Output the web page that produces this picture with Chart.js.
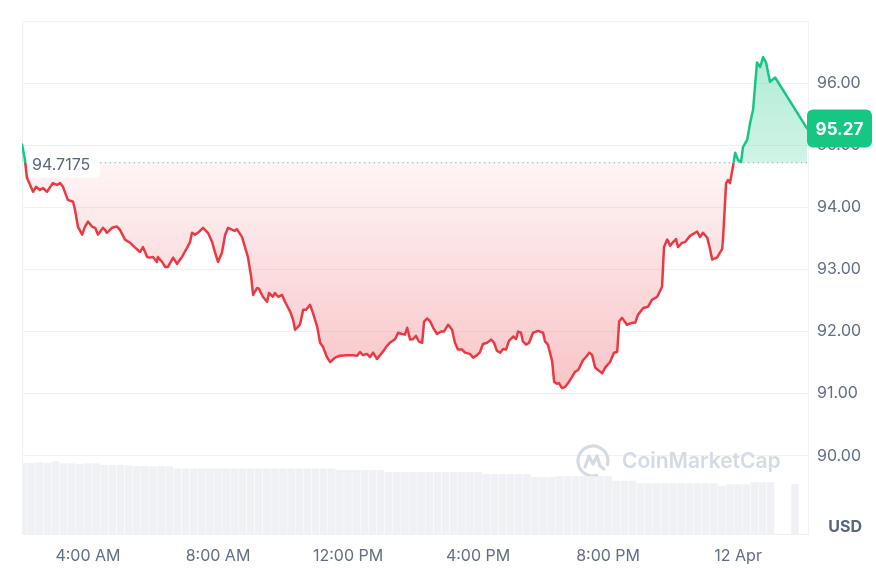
<!DOCTYPE html>
<html>
<head>
<meta charset="utf-8">
<script src="https://cdn.jsdelivr.net/npm/chart.js@4.4.1/dist/chart.umd.min.js"></script>
<style>
  html, body { margin: 0; padding: 0; background: #fff; }
</style>
</head>
<body>
<canvas id="priceChart" width="876" height="568"></canvas>
<script>
const openPrice = 94.7175;
const lastPrice = 95.27;

const tickHours = [4, 8, 12, 16, 20, 24];
const tickLabels = ["4:00 AM", "8:00 AM", "12:00 PM", "4:00 PM", "8:00 PM", "12 Apr"];
const priceTicks = [90, 91, 92, 93, 94, 95, 96, 97];

// hours since midnight (11 Apr)
const priceHours = [
    1.97, 2.06, 2.12, 2.31, 2.40, 2.52, 2.62, 2.74, 2.92, 3.05,
    3.14, 3.23, 3.38, 3.54, 3.60, 3.69, 3.82, 3.91, 4.00, 4.12,
    4.22, 4.31, 4.46, 4.52, 4.58, 4.74, 4.89, 4.98, 5.14, 5.29,
    5.45, 5.60, 5.69, 5.82, 5.91, 6.00, 6.12, 6.15, 6.28, 6.37,
    6.46, 6.62, 6.74, 6.89, 7.05, 7.14, 7.20, 7.29, 7.38, 7.54,
    7.69, 7.82, 7.91, 8.00, 8.12, 8.22, 8.31, 8.43, 8.52, 8.58,
    8.74, 8.83, 8.92, 9.02, 9.08, 9.20, 9.26, 9.38, 9.51, 9.57,
    9.69, 9.75, 9.85, 9.97, 10.06, 10.22, 10.31, 10.37, 10.43, 10.52,
    10.62, 10.71, 10.83, 10.92, 11.05, 11.14, 11.23, 11.35, 11.45, 11.60,
    11.75, 11.97, 12.12, 12.28, 12.37, 12.46, 12.58, 12.68, 12.77, 12.89,
    13.05, 13.20, 13.29, 13.45, 13.54, 13.66, 13.75, 13.82, 13.91, 14.00,
    14.09, 14.18, 14.28, 14.34, 14.43, 14.52, 14.62, 14.74, 14.86, 14.95,
    15.08, 15.20, 15.29, 15.38, 15.51, 15.60, 15.75, 15.85, 15.97, 16.06,
    16.15, 16.28, 16.40, 16.49, 16.58, 16.68, 16.77, 16.86, 16.95, 17.08,
    17.17, 17.23, 17.32, 17.38, 17.48, 17.57, 17.69, 17.85, 18.00, 18.06,
    18.15, 18.28, 18.34, 18.43, 18.49, 18.58, 18.68, 18.77, 18.89, 18.98,
    19.08, 19.23, 19.32, 19.42, 19.51, 19.60, 19.69, 19.82, 19.91, 20.06,
    20.18, 20.28, 20.34, 20.43, 20.58, 20.74, 20.83, 20.92, 21.08, 21.23,
    21.35, 21.51, 21.66, 21.72, 21.82, 21.91, 22.00, 22.09, 22.15, 22.28,
    22.37, 22.52, 22.74, 22.83, 22.92, 23.05, 23.14, 23.20, 23.35, 23.51,
    23.54, 23.63, 23.69, 23.75, 23.85, 23.91, 24.00, 24.09, 24.15, 24.28,
    24.37, 24.46, 24.58, 24.68, 24.77, 24.86, 24.98, 25.14, 26.12
];

const prices = [
    95.01, 94.77, 94.48, 94.25, 94.33, 94.28, 94.31, 94.25, 94.39, 94.36,
    94.39, 94.33, 94.12, 94.09, 93.96, 93.69, 93.56, 93.69, 93.77, 93.69,
    93.67, 93.56, 93.67, 93.64, 93.59, 93.67, 93.69, 93.64, 93.48, 93.43,
    93.35, 93.28, 93.36, 93.20, 93.19, 93.20, 93.12, 93.20, 93.12, 93.04,
    93.04, 93.19, 93.09, 93.20, 93.35, 93.44, 93.59, 93.56, 93.59, 93.67,
    93.59, 93.44, 93.27, 93.12, 93.27, 93.56, 93.67, 93.64, 93.62, 93.65,
    93.52, 93.36, 93.20, 92.88, 92.59, 92.70, 92.69, 92.56, 92.48, 92.62,
    92.56, 92.62, 92.56, 92.59, 92.48, 92.32, 92.19, 92.03, 92.06, 92.11,
    92.35, 92.35, 92.43, 92.30, 92.08, 91.82, 91.75, 91.59, 91.51, 91.58,
    91.61, 91.62, 91.62, 91.61, 91.67, 91.62, 91.64, 91.59, 91.66, 91.56,
    91.66, 91.77, 91.82, 91.88, 91.98, 91.96, 91.95, 92.06, 91.87, 91.88,
    91.93, 91.84, 91.82, 92.16, 92.21, 92.17, 92.06, 91.96, 92.00, 92.00,
    92.11, 92.03, 91.82, 91.71, 91.71, 91.66, 91.64, 91.58, 91.62, 91.67,
    91.80, 91.82, 91.87, 91.82, 91.69, 91.66, 91.72, 91.71, 91.85, 91.92,
    91.88, 92.00, 91.98, 91.84, 91.79, 91.82, 91.98, 92.01, 91.98, 91.84,
    91.79, 91.52, 91.19, 91.16, 91.17, 91.09, 91.11, 91.17, 91.27, 91.35,
    91.38, 91.54, 91.59, 91.66, 91.62, 91.42, 91.38, 91.33, 91.42, 91.51,
    91.66, 91.67, 92.16, 92.22, 92.11, 92.14, 92.14, 92.27, 92.38, 92.40,
    92.51, 92.56, 92.72, 93.36, 93.48, 93.38, 93.44, 93.49, 93.36, 93.43,
    93.44, 93.54, 93.61, 93.52, 93.59, 93.51, 93.32, 93.16, 93.19, 93.33,
    93.52, 94.39, 94.44, 94.39, 94.68, 94.88, 94.76, 94.73, 94.97, 95.09,
    95.36, 95.57, 96.33, 96.26, 96.42, 96.33, 96.02, 96.09, 95.27
];

// 24h volume, millions USD, 15 minute bars starting 02:00
const volStart = 2.0;
const volStep = 0.25;
const volumes = [
    140, 140, 141, 140, 143, 139, 139, 138, 139, 139,
    136, 136, 136, 135, 134, 134, 133, 134, 133, 129,
    129, 129, 129, 129, 129, 129, 129, 129, 129, 129,
    129, 129, 129, 129, 129, 129, 129, 129, 129, 126,
    126, 126, 126, 126, 126, 122, 122, 122, 122, 122,
    122, 122, 122, 122, 122, 122, 122, 118, 118, 118,
    118, 118, 118, 112, 112, 112, 114, 114, 114, 114,
    114, 114, 114, 105, 105, 105, 100, 100, 100, 100,
    100, 100, 100, 100, 100, 100, 95, 98, 98, 98,
    102, 102, 102, null, null, 98
];

const RED = "#ea3943";
const GREEN = "#16c784";
const TEXT = "#616e85";
const GRID = "#eff2f5";

function basePixel(chart) {
    return chart.scales.y.getPixelForValue(openPrice);
}

function lineColor(chart) {
    const area = chart.chartArea;
    if (!area) return RED;
    const yb = basePixel(chart);
    const stop = Math.min(Math.max((yb - area.top) / (area.bottom - area.top), 0), 1);
    const g = chart.ctx.createLinearGradient(0, area.top, 0, area.bottom);
    g.addColorStop(0, GREEN);
    g.addColorStop(stop, GREEN);
    g.addColorStop(stop, RED);
    g.addColorStop(1, RED);
    return g;
}

function greenFill(chart) {
    const area = chart.chartArea;
    if (!area) return "rgba(22,199,132,0.25)";
    const g = chart.ctx.createLinearGradient(0, chart.scales.y.getPixelForValue(96.5), 0, basePixel(chart));
    g.addColorStop(0, "rgba(22,199,132,0.34)");
    g.addColorStop(1, "rgba(22,199,132,0.2)");
    return g;
}

function redFill(chart) {
    const area = chart.chartArea;
    if (!area) return "rgba(234,57,67,0.1)";
    const g = chart.ctx.createLinearGradient(0, basePixel(chart), 0, chart.scales.y.getPixelForValue(91));
    g.addColorStop(0, "rgba(234,57,67,0.05)");
    g.addColorStop(1, "rgba(234,57,67,0.3)");
    return g;
}

function roundRect(ctx, x, y, w, h, r) {
    ctx.beginPath();
    ctx.moveTo(x + r, y);
    ctx.arcTo(x + w, y, x + w, y + h, r);
    ctx.arcTo(x + w, y + h, x, y + h, r);
    ctx.arcTo(x, y + h, x, y, r);
    ctx.arcTo(x, y, x + w, y, r);
    ctx.closePath();
}

const overlay = {
    id: "overlay",
    beforeDatasetsDraw(chart) {
        // CoinMarketCap watermark
        const {ctx, chartArea} = chart;
        const cx = chartArea.right - 215;
        const cy = chartArea.bottom - 73;
        ctx.save();
        ctx.strokeStyle = "#d5dbe5";
        ctx.fillStyle = "#d5dbe5";
        ctx.lineWidth = 3.2;
        ctx.lineCap = "round";
        ctx.lineJoin = "round";
        ctx.beginPath();
        ctx.arc(cx, cy, 15, 0.42 * Math.PI, 2.08 * Math.PI);
        ctx.stroke();
        ctx.beginPath();
        ctx.moveTo(cx - 8, cy + 6);
        ctx.lineTo(cx - 4, cy - 5);
        ctx.lineTo(cx, cy + 3);
        ctx.lineTo(cx + 4, cy - 5);
        ctx.lineTo(cx + 7, cy + 5);
        ctx.lineTo(cx + 11, cy + 8);
        ctx.stroke();
        ctx.font = "600 21px Inter";
        ctx.textBaseline = "middle";
        ctx.textAlign = "left";
        ctx.fillText("CoinMarketCap", cx + 29, cy + 1);
        ctx.restore();
    },
    afterDatasetsDraw(chart) {
        const {ctx, chartArea} = chart;
        const yb = basePixel(chart);
        ctx.save();

        // dotted open price line
        ctx.strokeStyle = "#9aa3b3";
        ctx.lineWidth = 1.2;
        ctx.setLineDash([1.4, 3.4]);
        ctx.beginPath();
        ctx.moveTo(chartArea.left + 78, yb);
        ctx.lineTo(chartArea.right, yb);
        ctx.stroke();
        ctx.setLineDash([]);

        // open price label
        ctx.fillStyle = "#ffffff";
        roundRect(ctx, chartArea.left + 6, yb - 12, 72, 27, 5);
        ctx.fill();
        ctx.fillStyle = "#58667e";
        ctx.font = "16px Inter";
        ctx.textBaseline = "middle";
        ctx.textAlign = "left";
        ctx.fillText(openPrice.toString(), chartArea.left + 10, yb + 2);

        // last price badge
        const yl = chart.scales.y.getPixelForValue(lastPrice);
        ctx.fillStyle = GREEN;
        roundRect(ctx, chartArea.right - 1, yl - 19, 65, 38, 6);
        ctx.fill();
        ctx.fillStyle = "#ffffff";
        ctx.font = "bold 17px Inter";
        ctx.textAlign = "center";
        ctx.fillText(lastPrice.toFixed(2), chartArea.right + 31.5, yl + 1);

        // currency label
        ctx.fillStyle = "#58667e";
        ctx.font = "bold 16px Inter";
        ctx.textAlign = "right";
        ctx.fillText("USD", chartArea.right + 54, chartArea.bottom - 7);
        ctx.restore();
    }
};

const ctx = document.getElementById("priceChart");
new Chart(ctx, {
    type: "line",
    data: {
        datasets: [
            {
                type: "line",
                label: "Price",
                data: priceHours.map((h, i) => ({x: h, y: prices[i]})),
                yAxisID: "y",
                order: 0,
                borderWidth: 2.5,
                pointRadius: 0,
                tension: 0,
                borderJoinStyle: "round",
                borderCapStyle: "round",
                borderColor: (c) => lineColor(c.chart),
                fill: {
                    target: {value: openPrice},
                    above: (c) => greenFill(c.chart),
                    below: (c) => redFill(c.chart)
                }
            },
            {
                type: "bar",
                label: "Volume",
                data: volumes.map((v, i) => ({x: volStart + i * volStep, y: v})),
                yAxisID: "yv",
                order: 1,
                backgroundColor: "#eff1f4",
                barPercentage: 0.94,
                categoryPercentage: 1
            }
        ]
    },
    options: {
        responsive: false,
        animation: false,
        devicePixelRatio: 1,
        layout: {
            padding: {top: 21, left: 22, right: 0, bottom: 0}
        },
        plugins: {
            legend: {display: false},
            tooltip: {enabled: false}
        },
        scales: {
            x: {
                type: "linear",
                min: 1.97,
                max: 26.15,
                offset: false,
                grid: {display: false},
                border: {display: true, color: GRID},
                afterBuildTicks: (scale) => {
                    scale.ticks = tickHours.map((v) => ({value: v}));
                },
                afterFit: (scale) => {
                    scale.height = 34;
                },
                ticks: {
                    autoSkip: false,
                    maxRotation: 0,
                    padding: 5,
                    color: TEXT,
                    font: {family: "Inter", size: 16},
                    callback: (v) => tickLabels[tickHours.indexOf(v)]
                }
            },
            y: {
                position: "right",
                min: 88.74,
                max: 97,
                afterBuildTicks: (scale) => {
                    scale.ticks = priceTicks.map((v) => ({value: v}));
                },
                afterFit: (scale) => {
                    scale.width = 68;
                },
                grid: {color: GRID, drawTicks: false},
                border: {display: true, color: GRID},
                ticks: {
                    padding: 9,
                    color: TEXT,
                    font: {family: "Inter", size: 16},
                    callback: (v) => (v === 97 ? "" : v.toFixed(2))
                }
            },
            yv: {
                position: "left",
                min: 0,
                max: 1010,
                grid: {display: false, drawTicks: false},
                border: {display: true, color: GRID},
                ticks: {display: false}
            }
        }
    },
    plugins: [overlay]
});
</script>
</body>
</html>
